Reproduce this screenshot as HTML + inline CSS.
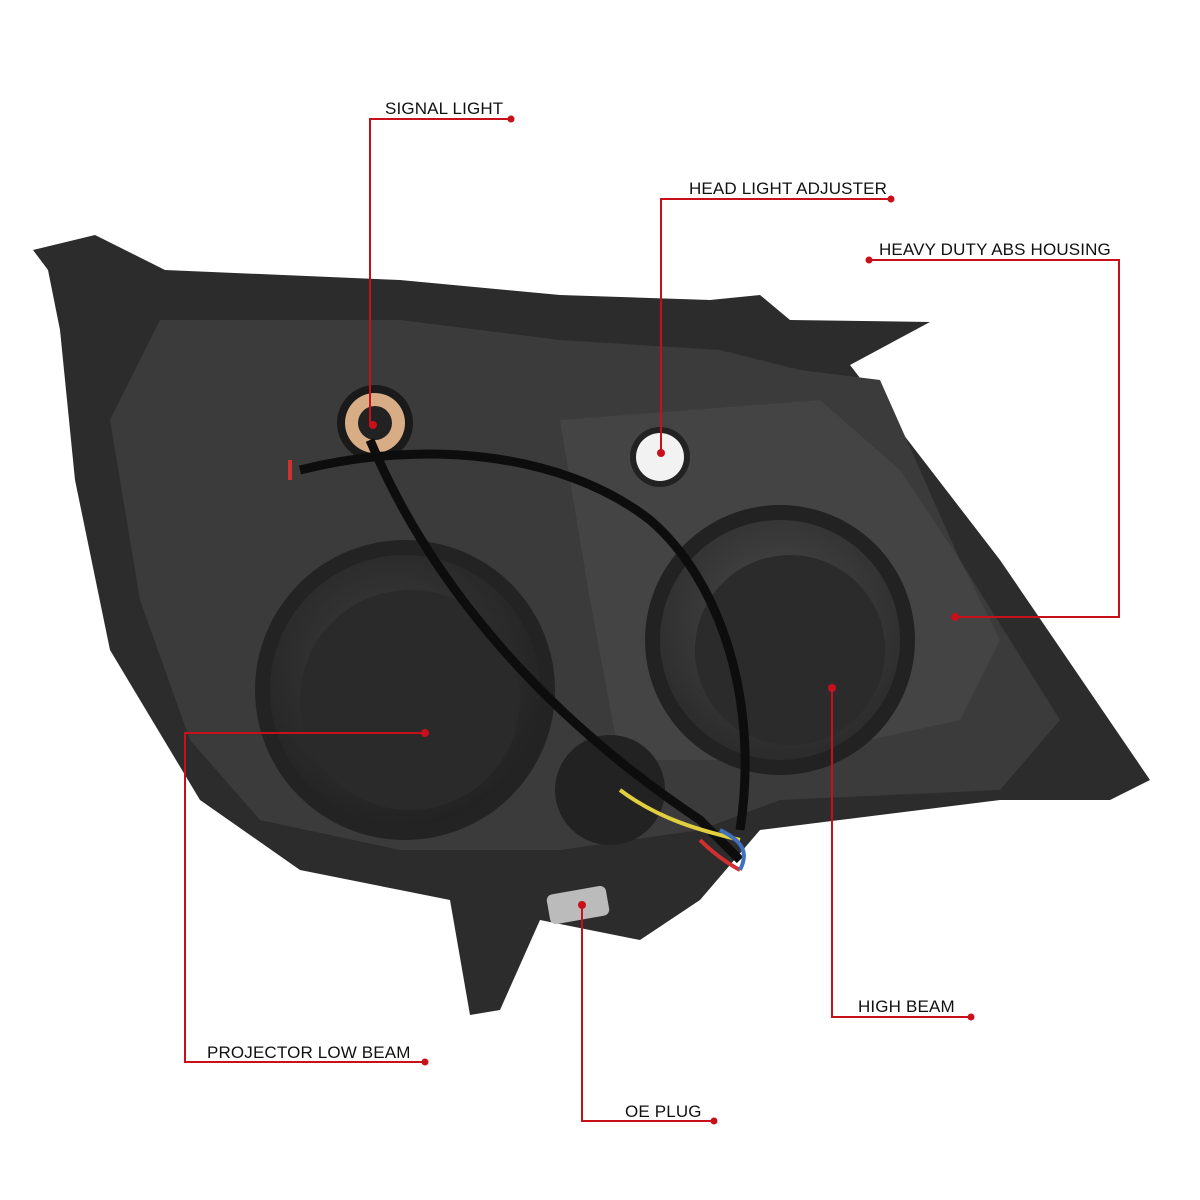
<!DOCTYPE html>
<html><head><meta charset="utf-8"><style>
html,body{margin:0;padding:0;background:#fff;}
#c{position:relative;width:1200px;height:1200px;overflow:hidden;background:#fff;}
.t{position:absolute;font-family:"Liberation Sans",sans-serif;font-size:17px;color:#111;letter-spacing:0.15px;white-space:nowrap;line-height:1;}
</style></head><body><div id="c">
<svg width="1200" height="1200" style="position:absolute;left:0;top:0">
<defs>
<radialGradient id="g1" cx="0.45" cy="0.4" r="0.7"><stop offset="0" stop-color="#3e3e3e"/><stop offset="1" stop-color="#1e1e1e"/></radialGradient>
<radialGradient id="g2" cx="0.5" cy="0.4" r="0.7"><stop offset="0" stop-color="#4a4a4a"/><stop offset="1" stop-color="#262626"/></radialGradient>
</defs>
<polygon fill="#2c2c2c" points="33,250 95,235 165,270 400,280 560,295 710,300 760,295 790,320 930,322 850,365 1000,560 1150,780 1110,800 1000,800 760,830 700,900 640,940 540,920 500,1010 470,1015 450,900 300,870 200,800 110,650 75,480 60,330 48,270"/>
<polygon fill="#3b3b3b" points="160,320 400,320 560,340 720,350 800,370 880,380 960,560 1060,720 1000,790 780,800 700,830 560,850 400,850 260,820 190,740 140,600 110,420"/>
<polygon fill="#444" points="560,420 820,400 900,470 960,560 1000,640 960,720 780,760 620,760 590,600"/>
<circle cx="405" cy="690" r="150" fill="#232323"/>
<circle cx="405" cy="690" r="135" fill="url(#g1)"/>
<circle cx="410" cy="700" r="110" fill="#2a2a2a"/>
<circle cx="780" cy="640" r="135" fill="#222"/>
<circle cx="780" cy="640" r="120" fill="url(#g2)"/>
<circle cx="790" cy="650" r="95" fill="#2b2b2b"/>
<circle cx="610" cy="790" r="55" fill="#222"/>
<circle cx="375" cy="423" r="38" fill="#1a1a1a"/>
<circle cx="375" cy="423" r="30" fill="#d8ad85"/>
<circle cx="375" cy="423" r="17" fill="#222"/>
<circle cx="660" cy="457" r="30" fill="#222"/>
<circle cx="660" cy="457" r="24" fill="#f2f2f2"/>
<rect x="548" y="890" width="60" height="30" rx="6" fill="#bbb" transform="rotate(-10 578 905)"/>
<path d="M300,470 C420,440 560,450 650,520 C720,580 760,700 740,830" stroke="#0d0d0d" stroke-width="9" fill="none"/>
<path d="M370,440 C420,560 520,700 700,820 C720,840 730,850 740,860" stroke="#0d0d0d" stroke-width="9" fill="none"/>
<path d="M620,790 C660,820 700,830 740,840" stroke="#e0d040" stroke-width="4" fill="none"/>
<path d="M700,840 C720,860 740,870 740,870" stroke="#d03030" stroke-width="4" fill="none"/>
<path d="M720,830 C740,840 750,850 740,870" stroke="#4070c0" stroke-width="4" fill="none"/>
<path d="M290,480 L290,460" stroke="#d03030" stroke-width="4"/>
<g stroke="#c8101a" stroke-width="2" fill="none">
<polyline points="511,119 370,119 370,425 373,425"/>
<polyline points="891,199 661,199 661,453"/>
<polyline points="869,260 1119,260 1119,617 955,617"/>
<polyline points="425,1062 185,1062 185,733 425,733"/>
<polyline points="971,1017 832,1017 832,688"/>
<polyline points="714,1121 582,1121 582,905"/>
</g>
<g fill="#c8101a">
<circle cx="511" cy="119" r="3.5"/><circle cx="373" cy="425" r="4"/>
<circle cx="891" cy="199" r="3.5"/><circle cx="661" cy="453" r="4"/>
<circle cx="869" cy="260" r="3.5"/><circle cx="955" cy="617" r="4"/>
<circle cx="425" cy="1062" r="3.5"/><circle cx="425" cy="733" r="4"/>
<circle cx="971" cy="1017" r="3.5"/><circle cx="832" cy="688" r="4"/>
<circle cx="714" cy="1121" r="3.5"/><circle cx="582" cy="905" r="4"/>
</g>
</svg>
<div class="t" style="left:385px;top:100px">SIGNAL LIGHT</div>
<div class="t" style="left:689px;top:180px">HEAD LIGHT ADJUSTER</div>
<div class="t" style="left:879px;top:241px">HEAVY DUTY ABS HOUSING</div>
<div class="t" style="left:207px;top:1044px">PROJECTOR LOW BEAM</div>
<div class="t" style="left:858px;top:998px">HIGH BEAM</div>
<div class="t" style="left:625px;top:1103px">OE PLUG</div>
</div></body></html>
